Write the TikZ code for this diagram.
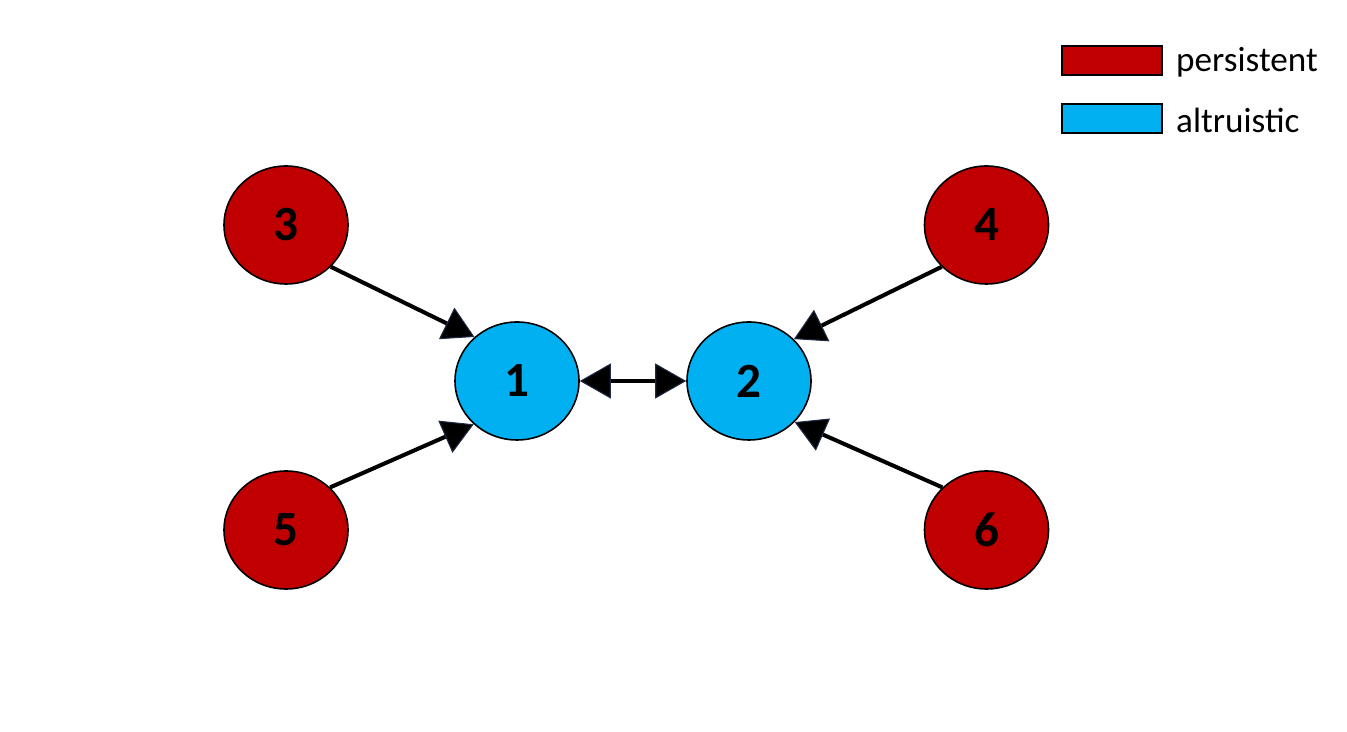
\documentclass[tikz,border=0pt]{standalone}
\usepackage{fontspec}
\setmainfont{Carlito}
\usepackage{xcolor}
\usetikzlibrary{arrows.meta,positioning,shapes.geometric}

\definecolor{persred}{HTML}{C00000}
\definecolor{altblue}{HTML}{00B0F0}
\definecolor{tipnavy}{HTML}{1F2A44}

\tikzset{bigtip/.tip={Triangle[length=0.62cm, width=0.7cm, color=tipnavy, fill=black, line width=0.6pt]}}

\begin{document}
\begin{tikzpicture}[
  every node/.style={font=\fontsize{28}{30}\selectfont\bfseries},
  agent/.style={ellipse, draw, line width=0.9pt, inner sep=0pt, minimum width=2.48cm, minimum height=2.36cm},
  pers/.style={agent, fill=persred},
  alt/.style={agent, fill=altblue},
  legbox/.style={draw, line width=1pt, minimum width=2cm, minimum height=0.58cm, inner sep=0pt},
  legtext/.style={font=\fontsize{20}{22}\selectfont, inner sep=0pt, anchor=west},
  edge/.style={line width=2.3pt, -bigtip},
  twoway/.style={line width=2.3pt, bigtip-bigtip}
]
\useasboundingbox (0,0) rectangle (26.94,14.64);

% agents
\node[alt] (n1) at (10.34,7.02) {1};
\node[alt] (n2) at (14.98,7.02) {2};
\node[pers] (n3) at (5.72,10.14) {3};
\node[pers] (n4) at (19.73,10.14) {4};
\node[pers] (n5) at (5.72,4.04) {5};
\node[pers] (n6) at (19.73,4.04) {6};

% legend
\node[legbox, fill=persred] (legp) at (22.24,13.43) {};
\node[legbox, fill=altblue] (lega) at (22.24,12.27) {};
\node[legtext, right=0.26cm of legp.east, yshift=-1pt] (legptext) {persistent};
\node[legtext, right=0.26cm of lega.east, yshift=-1pt] (legatext) {altruistic};

% influence
\draw[edge] (n3.-43) -- (n1.134);
\draw[edge] (n5.44) -- (n1.-135);
\draw[edge] (n4.-137) -- (n2.43);
\draw[edge] (n6.136) -- (n2.-42);
\draw[twoway] (n1) -- (n2);
\end{tikzpicture}
\end{document}
